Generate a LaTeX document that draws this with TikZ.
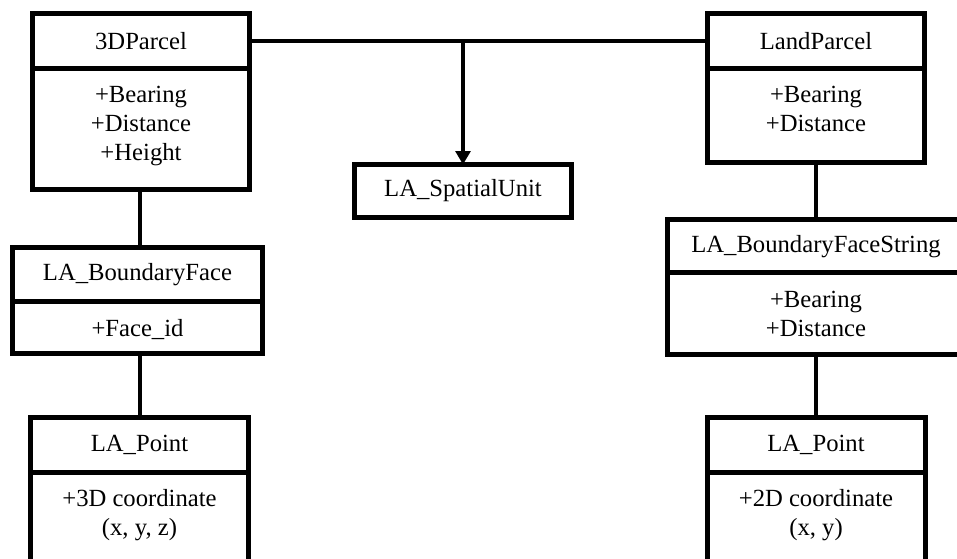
\documentclass[tikz,border=0pt]{standalone}
\usepackage{fontspec}
\setmainfont{Liberation Serif}
\usetikzlibrary{positioning,arrows.meta}

% attribute compartment: fixed height, lines from the top
\newcommand{\attrlist}[2]{\parbox[c][#1][t]{150pt}{\centering\rule{0pt}{26pt}#2}}

\begin{document}
\begin{tikzpicture}[x=0.75pt,y=-0.75pt,
		classname/.style={draw, line width=3.75pt, outer sep=0pt, minimum height=41pt, font=\fontsize{18.5}{21.75}\selectfont},
		classattr/.style={draw, line width=3.75pt, outer sep=0pt, inner sep=0pt, font=\fontsize{18.5}{21.75}\selectfont},
		link/.style={line width=3pt}]
	\useasboundingbox (0,0) rectangle (957,559);
	\clip (0,0) rectangle (957,559);

	% top row
	\node[classname, minimum width=162.75pt] (parcel3d) at (141,40.75) {3DParcel};
	\node[classattr, minimum width=162.75pt, below=0pt of parcel3d] (parcel3dattr)
		{\attrlist{91pt}{+Bearing\\+Distance\\+Height}};
	\node[classname, minimum width=162.75pt] (landparcel) at (816,40.75) {LandParcel};
	\node[classattr, minimum width=162.75pt, below=0pt of landparcel] (landparcelattr)
		{\attrlist{71pt}{+Bearing\\+Distance}};
	\node[classname, minimum width=162.4pt, minimum height=39.75pt] (spatialunit) at (463,191) {LA\_SpatialUnit};

	% boundary faces
	\node[classname, minimum width=188pt] (boundaryface) at (137.5,274.6) {LA\_BoundaryFace};
	\node[classattr, minimum width=188pt, below=0pt of boundaryface] (boundaryfaceattr)
		{\attrlist{39pt}{+Face\_id}};
	\node[classname, minimum width=222.75pt, minimum height=40pt] (boundarystring) at (816,246.25) {LA\_BoundaryFaceString};
	\node[classattr, minimum width=222.75pt, below=0pt of boundarystring] (boundarystringattr)
		{\attrlist{61pt}{+Bearing\\+Distance}};

	% points
	\node[classname, minimum width=163.5pt] (point3d) at (139.5,444.9) {LA\_Point};
	\node[classattr, minimum width=163.5pt, below=0pt of point3d] (point3dattr)
		{\attrlist{120pt}{+3D coordinate\\(x, y, z)}};
	\node[classname, minimum width=163.5pt] (point2d) at (816,444.9) {LA\_Point};
	\node[classattr, minimum width=163.5pt, below=0pt of point2d] (point2dattr)
		{\attrlist{120pt}{+2D coordinate\\(x, y)}};

	% connectors
	\coordinate (junction) at (spatialunit.north |- parcel3d.east);
	\draw[link] (parcel3d.east) -- (landparcel.west);
	\draw[link, -{Triangle[length=10pt, width=11pt]}] (junction) -- (spatialunit.north);
	\draw[link] (boundaryface.north -| point3d.north) -- (parcel3dattr.south -| point3d.north);
	\draw[link] (boundaryfaceattr.south -| point3d.north) -- (point3d.north);
	\draw[link] (landparcelattr.south) -- (boundarystring.north);
	\draw[link] (boundarystringattr.south) -- (point2d.north);
\end{tikzpicture}
\end{document}
